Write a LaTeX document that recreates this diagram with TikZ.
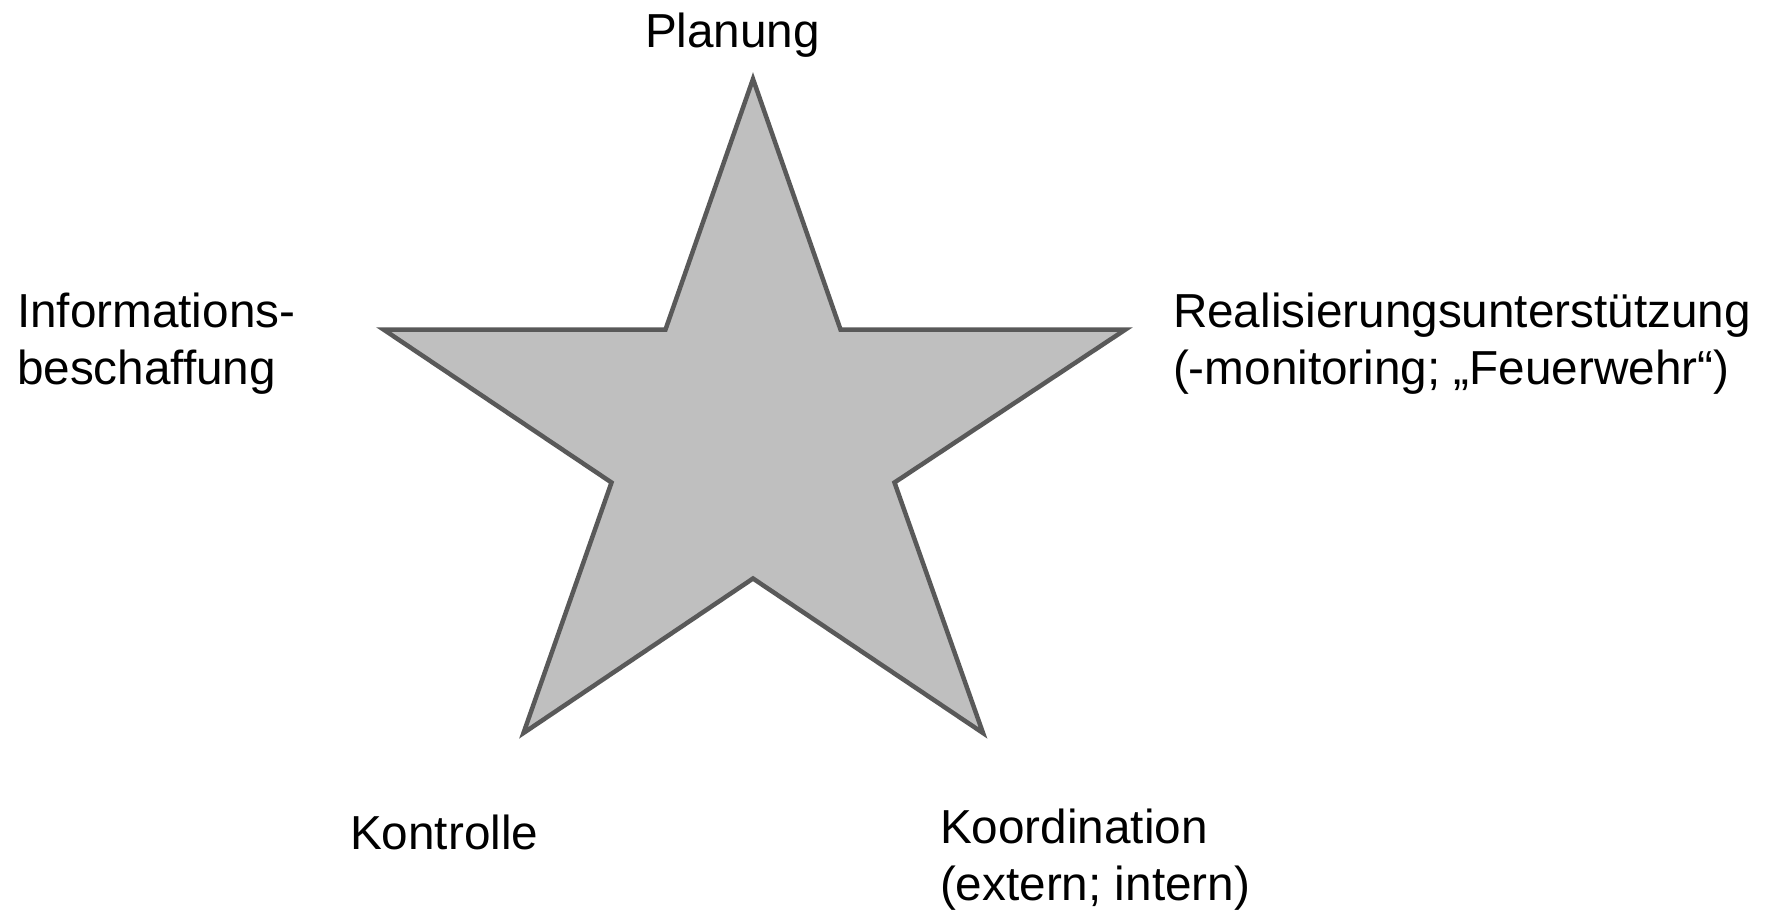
\documentclass[tikz,border=0pt]{standalone}
\usepackage{fontspec}
\setmainfont{Liberation Sans}
\begin{document}
\begin{tikzpicture}[x=1pt,y=-1pt,
  lbl/.style={inner sep=0pt,outer sep=0pt,align=left,anchor=base west,font=\fontsize{47.7}{57}\selectfont},
  starshape/.style={draw=black!65,fill=black!25,line width=4.5pt,line join=miter}]
\useasboundingbox (0,0) rectangle (1768,910);
\coordinate (t) at (753,79);
\coordinate (i1) at (665.5,329.5);
\coordinate (l) at (383.5,329.5);
\coordinate (i2) at (611.5,482.5);
\coordinate (bl) at (523.5,733);
\coordinate (i3) at (753,578.5);
\coordinate (br) at (983,733);
\coordinate (i4) at (894.5,482.5);
\coordinate (r) at (1125.5,329.5);
\coordinate (i5) at (840.5,329.5);
\draw[starshape] (t) -- (i1) -- (l) -- (i2) -- (bl) -- (i3) -- (br) -- (i4) -- (r) -- (i5) -- cycle;
\node[lbl] (plan) at (645,47) {Planung};
\node[lbl] (info) at (17,384) {Informations-\\beschaffung};
\node[lbl] (real) at (1173,384) {Realisierungsunterstützung\\(-monitoring; „Feuerwehr“)};
\node[lbl] (kontr) at (350,849) {Kontrolle};
\node[lbl] (koord) at (940,900) {Koordination\\(extern; intern)};
\end{tikzpicture}
\end{document}
